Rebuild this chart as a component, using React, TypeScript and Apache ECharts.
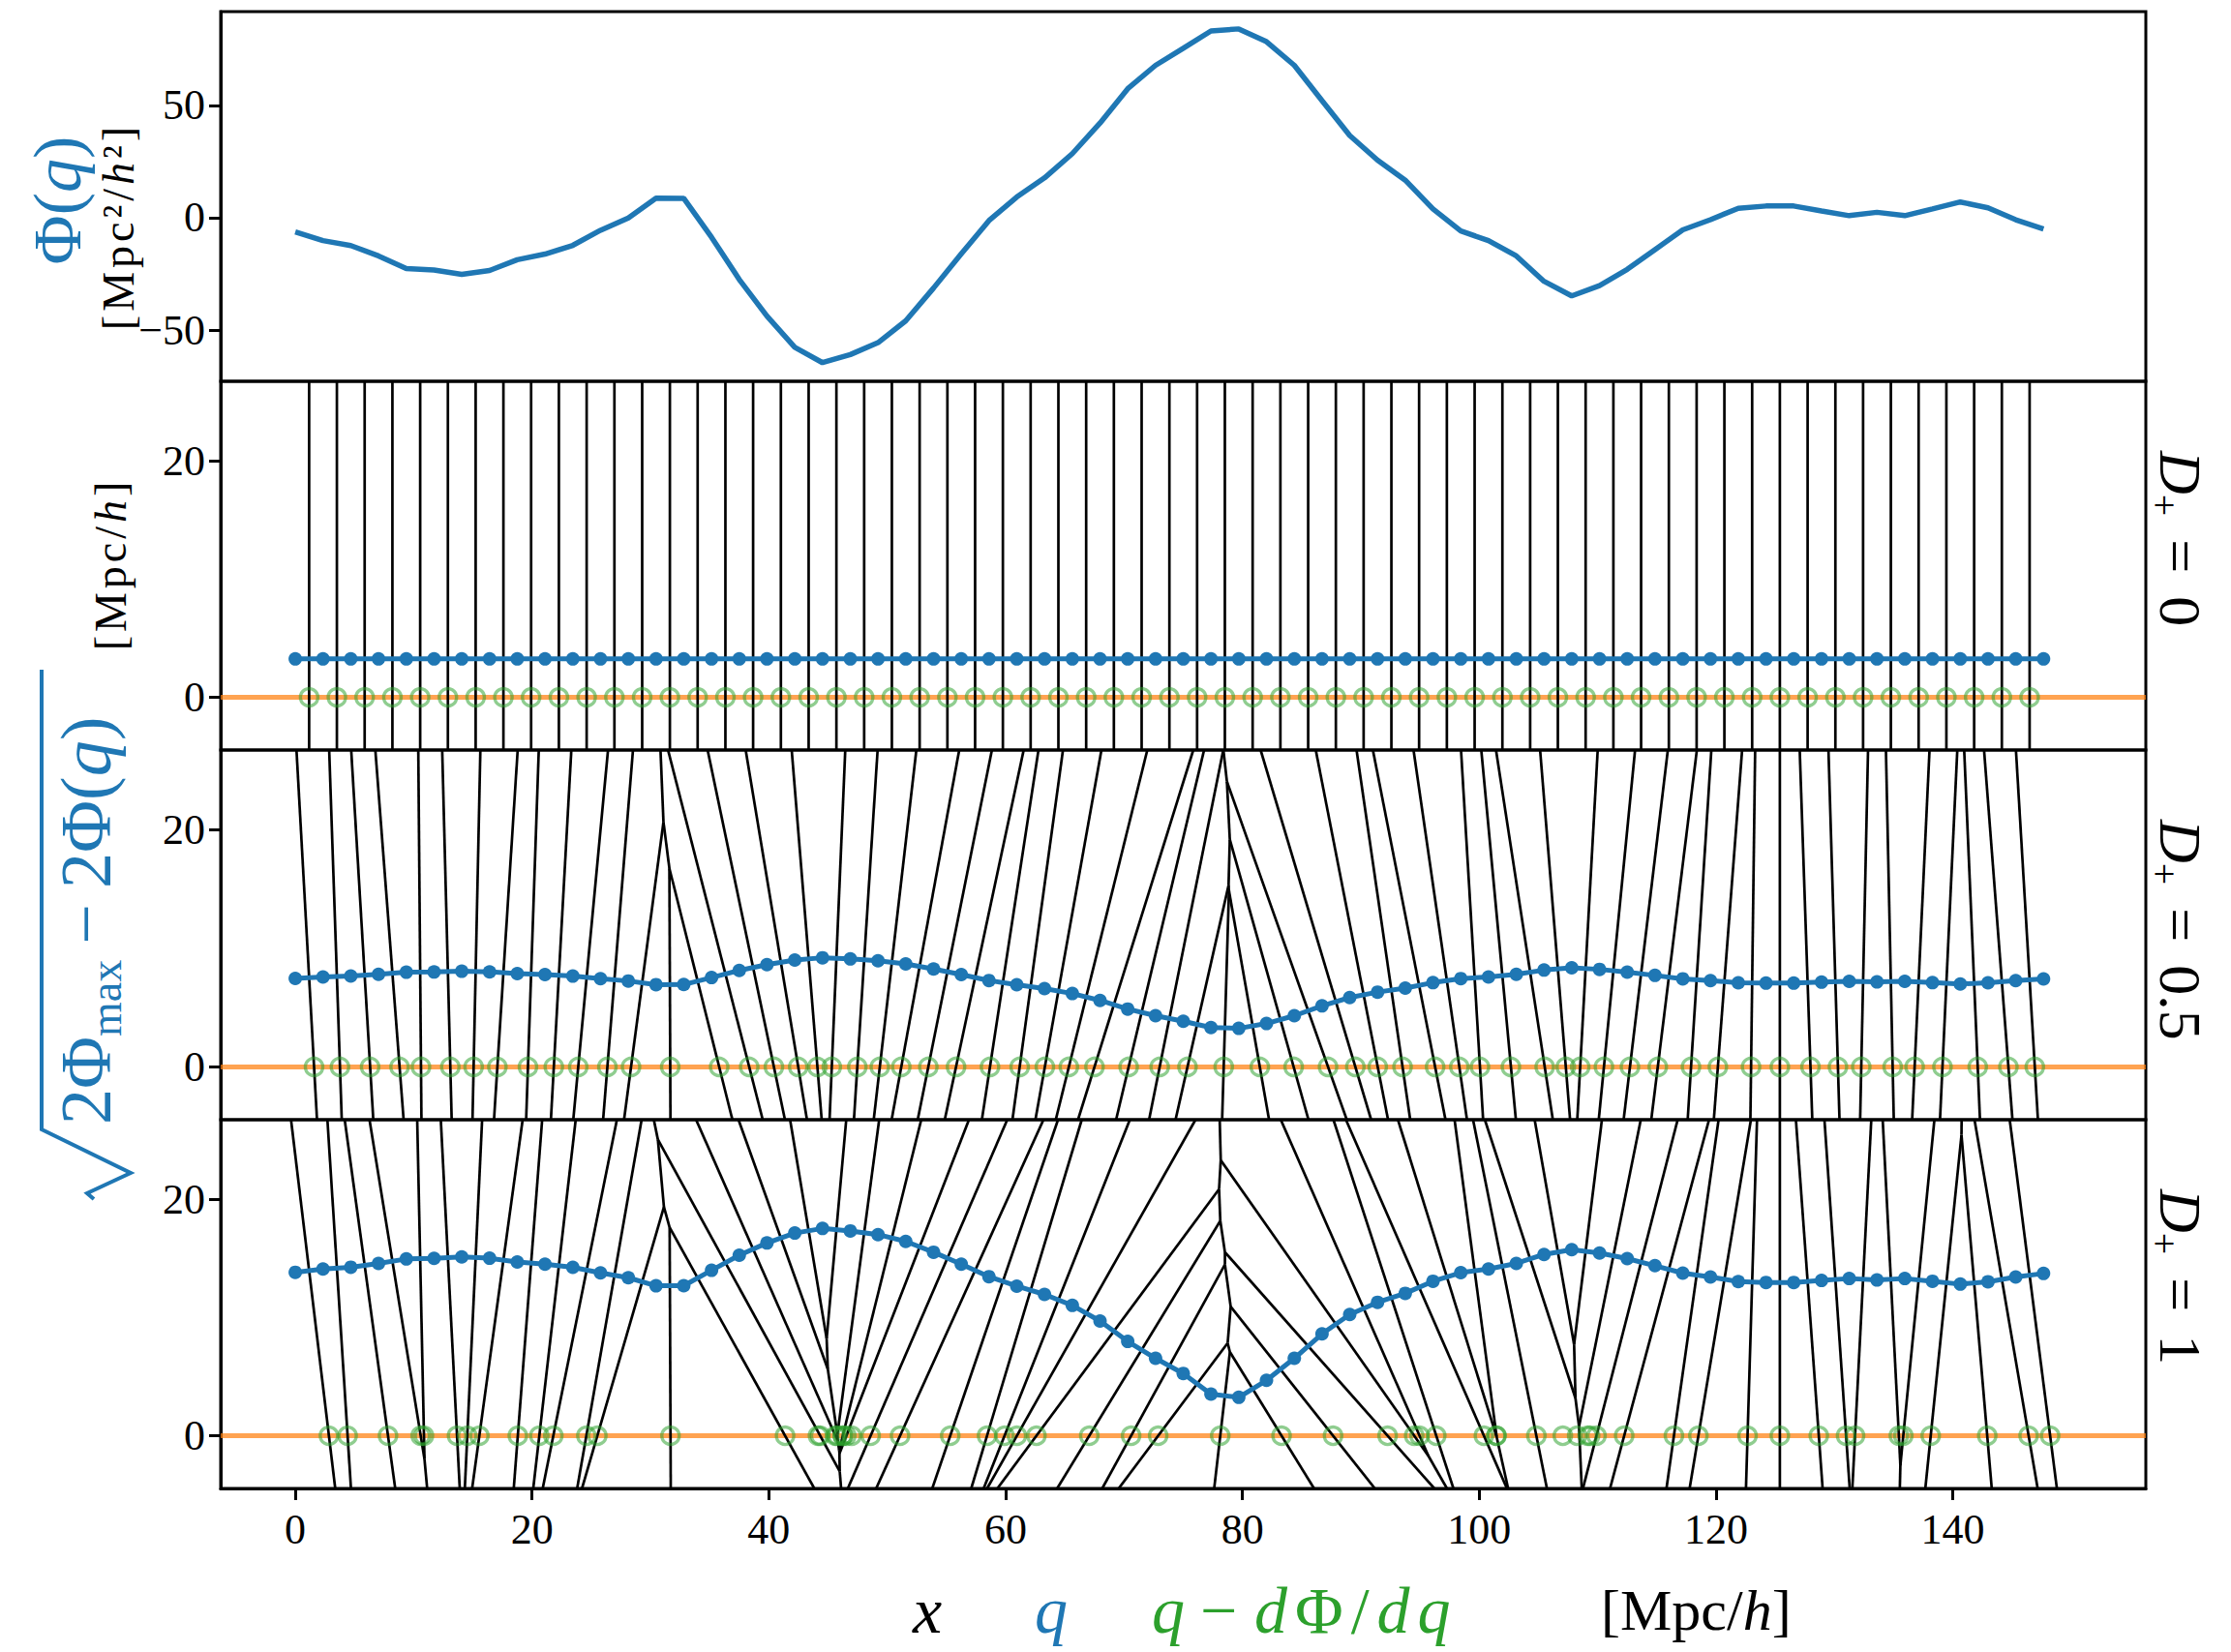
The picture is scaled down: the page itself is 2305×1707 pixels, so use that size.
import React, { useEffect, useRef } from "react";
import * as echarts from "echarts";

// Lagrangian grid positions q [Mpc/h]
const Q = [0, 2.34, 4.69, 7.03, 9.38, 11.72, 14.06, 16.41, 18.75, 21.09, 23.44, 25.78, 28.13, 30.47, 32.81, 35.16, 37.5, 39.84, 42.19, 44.53, 46.88, 49.22, 51.56, 53.91, 56.25, 58.59, 60.94, 63.28, 65.63, 67.97, 70.31, 72.66, 75, 77.34, 79.69, 82.03, 84.38, 86.72, 89.06, 91.41, 93.75, 96.09, 98.44, 100.78, 103.13, 105.47, 107.81, 110.16, 112.5, 114.84, 117.19, 119.53, 121.88, 124.22, 126.56, 128.91, 131.25, 133.59, 135.94, 138.28, 140.63, 142.97, 145.31, 147.66];

// Potential Φ(q) [Mpc²/h²]
const PHI = [-6.3, -10.2, -12.4, -17.0, -22.6, -23.3, -25.2, -23.5, -18.7, -16.2, -12.3, -5.6, -0.1, 8.7, 8.6, -8.7, -27.5, -43.8, -57.7, -64.5, -60.9, -55.6, -45.9, -31.3, -16.1, -1.3, 9.2, 17.7, 28.5, 42.1, 57.4, 67.8, 75.4, 83.1, 84.0, 78.3, 67.8, 52.1, 36.6, 25.6, 16.7, 3.9, -5.9, -10.2, -17.0, -28.3, -34.8, -30.2, -23.0, -14.2, -5.4, -0.9, 4.2, 5.2, 5.2, 3.0, 0.9, 2.4, 0.9, 3.9, 7.0, 4.4, -0.9, -5.0];

// Heights of the blue points in each panel
const H_D0 = [3.25, 3.25, 3.25, 3.25, 3.25, 3.25, 3.25, 3.25, 3.25, 3.25, 3.25, 3.25, 3.25, 3.25, 3.25, 3.25, 3.25, 3.25, 3.25, 3.25, 3.25, 3.25, 3.25, 3.25, 3.25, 3.25, 3.25, 3.25, 3.25, 3.25, 3.25, 3.25, 3.25, 3.25, 3.25, 3.25, 3.25, 3.25, 3.25, 3.25, 3.25, 3.25, 3.25, 3.25, 3.25, 3.25, 3.25, 3.25, 3.25, 3.25, 3.25, 3.25, 3.25, 3.25, 3.25, 3.25, 3.25, 3.25, 3.25, 3.25, 3.25, 3.25, 3.25, 3.25];
const H_D05 = [7.46, 7.59, 7.67, 7.81, 7.99, 8.01, 8.07, 8.02, 7.87, 7.79, 7.66, 7.44, 7.25, 6.94, 6.95, 7.54, 8.14, 8.63, 9.02, 9.21, 9.11, 8.96, 8.69, 8.26, 7.79, 7.29, 6.93, 6.61, 6.19, 5.61, 4.88, 4.32, 3.85, 3.32, 3.25, 3.66, 4.32, 5.15, 5.85, 6.31, 6.65, 7.11, 7.45, 7.59, 7.81, 8.17, 8.36, 8.23, 8.00, 7.72, 7.43, 7.28, 7.10, 7.07, 7.07, 7.15, 7.22, 7.17, 7.22, 7.11, 7.00, 7.10, 7.28, 7.42];
const H_D1 = [13.83, 14.11, 14.26, 14.58, 14.96, 15.01, 15.13, 15.02, 14.70, 14.52, 14.25, 13.78, 13.37, 12.69, 12.70, 14.00, 15.28, 16.31, 17.15, 17.54, 17.33, 17.02, 16.44, 15.53, 14.52, 13.46, 12.66, 11.96, 11.03, 9.71, 7.98, 6.55, 5.27, 3.52, 3.25, 4.69, 6.55, 8.62, 10.26, 11.29, 12.05, 13.07, 13.80, 14.11, 14.58, 15.34, 15.75, 15.46, 14.99, 14.39, 13.76, 13.43, 13.04, 12.97, 12.97, 13.14, 13.30, 13.18, 13.30, 13.07, 12.83, 13.03, 13.43, 13.73];

const PANEL_H = [H_D0, H_D05, H_D1];
const PANEL_LABELS = ["0", "0.5", "1"];
const X_TICKS = [0, 20, 40, 60, 80, 100, 120, 140];
const PHI_TICKS = [-50, 0, 50];
const H_TICKS = [0, 20];

const X_MIN = -6.3, X_MAX = 156.3;
const PHI_MIN = -72.8, PHI_MAX = 91.7;
const H_MIN = -4.46, H_MAX = 26.74;

const FONT = "'Liberation Serif', 'DejaVu Serif', serif";
const BLUE = "#1f77b4";
const GREEN = "#2ca02c";

const GRID_LEFT = 228;
const GRID_W = 1989;
const TOPS = [12, 394, 775, 1157];
const HEIGHTS = [382, 381, 382, 381];

type V = { x: number; y: number; lab: number };

function clip(poly: V[], dx: number, dy: number, c: number, lab: number): V[] {
  const out: V[] = [];
  const n = poly.length;
  for (let k = 0; k < n; k++) {
    const A = poly[k];
    const B = poly[(k + 1) % n];
    const fa = A.x * dx + A.y * dy - c;
    const fb = B.x * dx + B.y * dy - c;
    if (fa <= 0) out.push(A);
    if ((fa <= 0) !== (fb <= 0)) {
      const t = fa / (fa - fb);
      out.push({ x: A.x + t * (B.x - A.x), y: A.y + t * (B.y - A.y), lab: fa <= 0 ? lab : A.lab });
    }
  }
  return out;
}

// Voronoi edges of the points (q, h) within the panel window
function voronoiEdges(xs: number[], ys: number[]): number[][] {
  const edges: number[][] = [];
  const n = xs.length;
  for (let i = 0; i < n; i++) {
    let poly: V[] = [
      { x: X_MIN, y: H_MIN, lab: -1 },
      { x: X_MAX, y: H_MIN, lab: -1 },
      { x: X_MAX, y: H_MAX, lab: -1 },
      { x: X_MIN, y: H_MAX, lab: -1 },
    ];
    for (let j = 0; j < n && poly.length; j++) {
      if (j === i) continue;
      const dx = xs[j] - xs[i];
      const dy = ys[j] - ys[i];
      const c = (xs[j] * xs[j] + ys[j] * ys[j] - xs[i] * xs[i] - ys[i] * ys[i]) / 2;
      poly = clip(poly, dx, dy, c, j);
    }
    const m = poly.length;
    for (let k = 0; k < m; k++) {
      const A = poly[k];
      const B = poly[(k + 1) % m];
      if (A.lab > i && Math.hypot(A.x - B.x, A.y - B.y) > 1e-6) edges.push([A.x, A.y, B.x, B.y]);
    }
  }
  return edges;
}

// where each bisector of neighbouring points crosses y = 0
function crossings(xs: number[], ys: number[]): number[][] {
  const out: number[][] = [];
  for (let i = 0; i + 1 < xs.length; i++) {
    const dq = xs[i + 1] - xs[i];
    out.push([(xs[i] + xs[i + 1]) / 2 + (ys[i + 1] * ys[i + 1] - ys[i] * ys[i]) / (2 * dq), 0]);
  }
  return out;
}

// rich text made of one token per character, so that glyphs can be spaced
function spaced(parts: [string, string][]): string {
  return parts
    .map(([style, s]) =>
      Array.from(s)
        .map((ch) => "{" + style + "|" + ch + "}")
        .join("")
    )
    .join("");
}

function buildOption() {
  const grid = TOPS.map((t, k) => ({
    left: GRID_LEFT,
    width: GRID_W,
    top: t,
    height: HEIGHTS[k],
    show: true,
    borderColor: "#000",
    borderWidth: 3,
    backgroundColor: "transparent",
    containLabel: false,
  }));
  const xAxis = TOPS.map((_, k) => ({
    gridIndex: k,
    type: "value",
    min: X_MIN,
    max: X_MAX,
    axisLine: { show: k === 3, onZero: false, lineStyle: { color: "#000", width: 3 } },
    axisTick: { show: k === 3, customValues: X_TICKS, length: 12, lineStyle: { color: "#000", width: 3 } },
    axisLabel: { show: k === 3, customValues: X_TICKS, fontSize: 44, fontFamily: FONT, color: "#000", margin: 20 },
    splitLine: { show: false },
  }));
  const yAxis = TOPS.map((_, k) => ({
    gridIndex: k,
    type: "value",
    min: k === 0 ? PHI_MIN : H_MIN,
    max: k === 0 ? PHI_MAX : H_MAX,
    axisLine: { show: true, onZero: false, lineStyle: { color: "#000", width: 3 } },
    axisTick: { show: true, customValues: k === 0 ? PHI_TICKS : H_TICKS, length: 12, lineStyle: { color: "#000", width: 3 } },
    axisLabel: {
      show: true,
      customValues: k === 0 ? PHI_TICKS : H_TICKS,
      fontSize: 44,
      fontFamily: FONT,
      color: "#000",
      margin: 16,
      formatter: (v: number) => (v < 0 ? "\u2212" + Math.abs(v) : String(v)),
    },
    splitLine: { show: false },
  }));

  const series: any[] = [
    {
      type: "line",
      xAxisIndex: 0,
      yAxisIndex: 0,
      data: Q.map((q, i) => [q, PHI[i]]),
      symbol: "none",
      lineStyle: { color: BLUE, width: 5.5 },
      silent: true,
      z: 3,
    },
  ];

  PANEL_H.forEach((H, p) => {
    const ax = p + 1;
    series.push({
      type: "line",
      xAxisIndex: ax,
      yAxisIndex: ax,
      data: [[X_MIN, 0], [X_MAX, 0]],
      symbol: "none",
      lineStyle: { color: "rgba(255,127,14,0.72)", width: 5 },
      silent: true,
      z: 1,
    });
    series.push({
      type: "custom",
      xAxisIndex: ax,
      yAxisIndex: ax,
      data: voronoiEdges(Q, H),
      encode: { x: [0, 2], y: [1, 3] },
      renderItem: (_params: any, api: any) => {
        const a = api.coord([api.value(0), api.value(1)]);
        const b = api.coord([api.value(2), api.value(3)]);
        return {
          type: "line",
          shape: { x1: a[0], y1: a[1], x2: b[0], y2: b[1] },
          style: { stroke: "#000", lineWidth: 2.7 },
        };
      },
      clip: true,
      silent: true,
      z: 2,
    });
    series.push({
      type: "scatter",
      xAxisIndex: ax,
      yAxisIndex: ax,
      data: crossings(Q, H),
      symbol: "circle",
      symbolSize: 18,
      itemStyle: { color: "rgba(0,0,0,0)", borderColor: "rgba(44,160,44,0.66)", borderWidth: 3.4 },
      silent: true,
      z: 3,
    });
    series.push({
      type: "line",
      xAxisIndex: ax,
      yAxisIndex: ax,
      data: Q.map((q, i) => [q, H[i]]),
      symbol: "circle",
      symbolSize: 14,
      showSymbol: true,
      itemStyle: { color: BLUE },
      lineStyle: { color: BLUE, width: 5 },
      silent: true,
      z: 4,
    });
  });

  const rot90 = Math.PI / 2;
  const graphic: any[] = [
    {
      type: "text",
      x: 59,
      y: 207,
      rotation: rot90,
      style: {
        text: "{a|\u03a6(}{i|q}{a|)}",
        align: "center",
        verticalAlign: "middle",
        rich: {
          a: { fontSize: 70, fontFamily: FONT, fill: BLUE },
          i: { fontSize: 70, fontFamily: FONT, fontStyle: "italic", fill: BLUE },
        },
      },
    },
    {
      type: "text",
      x: 122,
      y: 236,
      rotation: rot90,
      style: {
        text: spaced([["a", "[Mpc\u00b2/"], ["i", "h"], ["a", "\u00b2]"]]),
        align: "center",
        verticalAlign: "middle",
        rich: {
          a: { fontSize: 46, fontFamily: FONT, fill: "#000", padding: [0, 2, 0, 2] },
          i: { fontSize: 46, fontFamily: FONT, fontStyle: "italic", fill: "#000", padding: [0, 2, 0, 2] },
        },
      },
    },
    {
      type: "text",
      x: 114,
      y: 585,
      rotation: rot90,
      style: {
        text: spaced([["a", "[Mpc/"], ["i", "h"], ["a", "]"]]),
        align: "center",
        verticalAlign: "middle",
        rich: {
          a: { fontSize: 46, fontFamily: FONT, fill: "#000", padding: [0, 2, 0, 2] },
          i: { fontSize: 46, fontFamily: FONT, fontStyle: "italic", fill: "#000", padding: [0, 2, 0, 2] },
        },
      },
    },
    {
      type: "text",
      x: 92,
      y: 1162,
      rotation: rot90,
      style: {
        text: "{n|2\u03a6}{s|max}{m|\u2212}{n|2\u03a6(}{i|q}{n|)}",
        align: "left",
        verticalAlign: "middle",
        rich: {
          n: { fontSize: 74, fontFamily: FONT, fill: BLUE, verticalAlign: "top", lineHeight: 80 },
          m: { fontSize: 74, fontFamily: FONT, fill: BLUE, verticalAlign: "top", lineHeight: 80, padding: [0, 16, 0, 16] },
          i: { fontSize: 74, fontFamily: FONT, fontStyle: "italic", fill: BLUE, verticalAlign: "top", lineHeight: 80 },
          s: { fontSize: 46, fontFamily: FONT, fill: BLUE, verticalAlign: "top", lineHeight: 46, padding: [34, 0, 0, 0] },
        },
      },
    },
    {
      type: "polyline",
      shape: { points: [[43, 692], [43, 1167], [135, 1212], [90, 1233], [97, 1239]] },
      style: { stroke: BLUE, lineWidth: 4, fill: "none" },
    },
  ];

  PANEL_LABELS.forEach((lab, p) => {
    graphic.push({
      type: "text",
      x: 2251,
      y: TOPS[p + 1] + 72,
      rotation: -rot90,
      style: {
        text: "{i|D}{s|+}{e|=}{a|" + lab + "}",
        align: "left",
        verticalAlign: "middle",
        rich: {
          i: { fontSize: 62, fontFamily: FONT, fontStyle: "italic", fill: "#000", verticalAlign: "top", lineHeight: 66 },
          a: { fontSize: 62, fontFamily: FONT, fill: "#000", verticalAlign: "top", lineHeight: 66 },
          e: { fontSize: 62, fontFamily: FONT, fill: "#000", verticalAlign: "top", lineHeight: 66, padding: [0, 24, 0, 24] },
          s: { fontSize: 40, fontFamily: FONT, fill: "#000", verticalAlign: "top", lineHeight: 40, padding: [28, 0, 0, 0] },
        },
      },
    });
  });

  const XL_Y = 1664;
  const xl = (x: number, text: string, rich: any) => ({
    type: "text",
    x,
    y: XL_Y,
    style: { text, align: "left", verticalAlign: "middle", rich },
  });
  const it = (fill: string, size: number, pad = 0) => ({ fontSize: size, fontFamily: FONT, fontStyle: "italic", fill, padding: [0, pad, 0, pad] });
  const up = (fill: string, size: number, pad = 0) => ({ fontSize: size, fontFamily: FONT, fill, padding: [0, pad, 0, pad] });
  graphic.push(xl(943, "{i|x}", { i: it("#000", 68) }));
  graphic.push(xl(1069, "{i|q}", { i: it(BLUE, 68) }));
  graphic.push(xl(1190, "{i|q}", { i: it(GREEN, 68) }));
  graphic.push(xl(1240, "{a|\u2212}", { a: up(GREEN, 68) }));
  graphic.push(xl(1292, "{i|d}{a|\u03a6}{a|/}{i|d}{i|q}", { i: it(GREEN, 68, 4), a: up(GREEN, 68, 4) }));
  graphic.push(xl(1654, "{a|[Mpc/}{i|h}{a|]}", { i: it("#000", 60), a: up("#000", 60) }));

  return {
    animation: false,
    backgroundColor: "#ffffff",
    grid,
    xAxis,
    yAxis,
    series,
    graphic,
  };
}

export default function App() {
  const ref = useRef<HTMLDivElement>(null);
  useEffect(() => {
    if (!ref.current) return;
    const chart = echarts.init(ref.current, null, { renderer: "svg", width: 2305, height: 1707 });
    chart.setOption(buildOption() as any);
    return () => chart.dispose();
  }, []);
  return (
    <div
      ref={ref}
      style={{ position: "absolute", left: 0, top: 0, width: 2305, height: 1707, background: "#fff" }}
    />
  );
}
